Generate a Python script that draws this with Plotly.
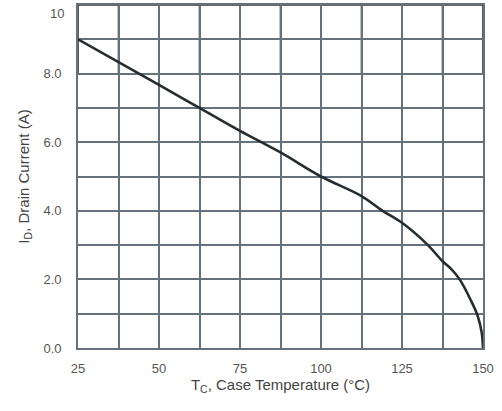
import plotly.graph_objects as go

# Data
temperature = [25, 50, 62.5, 75, 87.5, 100, 112.5, 119, 125, 133, 137.5, 140, 142.8, 146.3, 148.3, 149.6, 150]
drain_current = [9.0, 7.67, 7.0, 6.33, 5.7, 5.0, 4.43, 4.0, 3.65, 3.0, 2.53, 2.32, 2.0, 1.38, 0.95, 0.45, 0.0]

x_tick_vals = [25, 50, 75, 100, 125, 150]
x_tick_text = ["25", "50", "75", "100", "125", "150"]
y_tick_vals = [0, 2, 4, 6, 8, 10]
y_tick_text = ["0.0", "2.0", "4.0", "6.0", "8.0", "10"]

x_grid_step = 12.5
y_grid_step = 1.0

grid_gray = "#66727b"
grid_dark = "#333333"
label_color = "#555555"

fig = go.Figure()

fig.add_trace(go.Scatter(
    x=temperature, y=drain_current, mode="lines",
    line=dict(color="#262d31", width=2.6, shape="spline", smoothing=1.0),
    hoverinfo="skip", showlegend=False,
))

# dark grid lines in the upper band (8..10)
n_x = int(round((max(x_tick_vals) - min(x_tick_vals)) / x_grid_step))
for i in range(n_x + 1):
    xv = min(x_tick_vals) + i * x_grid_step
    fig.add_shape(type="line", xref="x", yref="y", x0=xv, x1=xv, y0=8, y1=10,
                  line=dict(color=grid_dark, width=1.6), layer="below")
for yv in [9, 10]:
    fig.add_shape(type="line", xref="x", yref="y", x0=25, x1=150, y0=yv, y1=yv,
                  line=dict(color=grid_dark, width=1.6), layer="below")

# top tick label sits slightly below its gridline in the reference
fig.add_annotation(
    x=0, xref="paper", xanchor="right", xshift=-12,
    y=y_tick_vals[-1], yref="y", yanchor="middle", yshift=-8,
    text=y_tick_text[-1], showarrow=False,
    font=dict(size=13, color=label_color),
)

fig.update_layout(
    width=502, height=411,
    margin=dict(l=78, r=19, t=5, b=63, autoexpand=False),
    paper_bgcolor="white", plot_bgcolor="white",
    font=dict(family="Liberation Sans, Arial, sans-serif", color=label_color, size=13),
    showlegend=False,
)

fig.update_xaxes(
    range=[25, 150], tickvals=x_tick_vals, ticktext=x_tick_text,
    showgrid=True, gridcolor=grid_gray, gridwidth=1.8,
    minor=dict(dtick=x_grid_step, tick0=25, showgrid=True, gridcolor=grid_gray, gridwidth=1.8),
    showline=True, linecolor=grid_gray, linewidth=1.8, mirror=True,
    zeroline=False, ticks="", ticklabelstandoff=7, automargin=False,
    ticklabeloverflow="allow",
    tickfont=dict(size=13, color=label_color),
    title=dict(text="T<sub>C</sub>, Case Temperature (°C)", font=dict(size=15, color="#444444"), standoff=5),
)
fig.update_yaxes(
    range=[0, 10], tickvals=y_tick_vals[:-1], ticktext=y_tick_text[:-1],
    showgrid=True, gridcolor=grid_gray, gridwidth=1.8,
    minor=dict(dtick=y_grid_step, tick0=0, showgrid=True, gridcolor=grid_gray, gridwidth=1.8),
    showline=True, linecolor=grid_gray, linewidth=1.8, mirror=True,
    zeroline=False, ticks="", ticklabelstandoff=12, automargin=False,
    ticklabeloverflow="allow",
    tickfont=dict(size=13, color=label_color),
    title=dict(text="I<sub>D</sub>, Drain Current (A)", font=dict(size=15, color="#444444"), standoff=10),
)

fig.write_html("out.html", post_script="document.body.style.margin='0';",
               config={"displayModeBar": False})
